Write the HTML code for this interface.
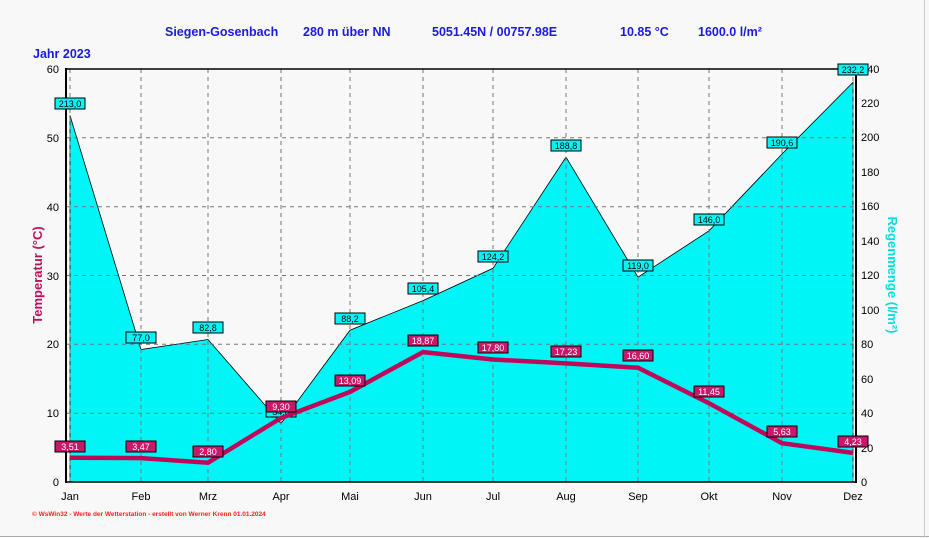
<!DOCTYPE html><html><head><style>body{margin:0;background:#f8f8f8}svg{display:block}</style></head><body>
<svg width="929" height="538" xmlns="http://www.w3.org/2000/svg" font-family="Liberation Sans, sans-serif">
<rect width="929" height="538" fill="#f8f8f8"/>
<line x1="0" y1="536.5" x2="929" y2="536.5" stroke="#aaa"/>
<line x1="924.5" y1="0" x2="924.5" y2="538" stroke="#ccc"/>
<g fill="#1a1ae6" font-weight="bold" font-size="12.5">
<text x="165" y="36">Siegen-Gosenbach</text><text x="303" y="36">280 m über NN</text>
<text x="432" y="36">5051.45N / 00757.98E</text><text x="620" y="36">10.85 °C</text><text x="698" y="36">1600.0 l/m²</text>
<text x="33" y="58">Jahr  2023</text></g>
<polygon fill="#00f6f6" stroke="#000" stroke-width="0.8" points="70,482 70,115.5 141,349.5 208,339.5 281,423.5 350,330.2 423,300.6 493,268.3 566,157.1 638,277.2 709,230.8 782,154 853,82.4 853,482"/>
<g stroke="#777" stroke-dasharray="4,4" fill="none">
<path d="M141,69V482M208,69V482M281,69V482M350,69V482M423,69V482M493,69V482M566,69V482M638,69V482M709,69V482M782,69V482M853,69V482M70,69V482"/>
<path d="M66,413.2H856M66,344.3H856M66,275.5H856M66,206.7H856M66,137.8H856"/>
</g>
<line x1="66" y1="69" x2="856" y2="69" stroke="#000" stroke-width="1.5"/>
<line x1="66" y1="482" x2="856" y2="482" stroke="#000" stroke-width="1.5"/>
<line x1="66" y1="68" x2="66" y2="483" stroke="#000" stroke-width="2"/>
<line x1="856" y1="68" x2="856" y2="483" stroke="#000" stroke-width="2"/>
<g font-size="11" fill="#000" text-anchor="end">
<text x="59" y="73">60</text><text x="59" y="142">50</text><text x="59" y="211">40</text><text x="59" y="280">30</text><text x="59" y="348">20</text><text x="59" y="417">10</text><text x="59" y="486">0</text></g>
<g font-size="11" fill="#000">
<text x="861" y="73">240</text><text x="861" y="107">220</text><text x="861" y="141">200</text><text x="861" y="176">180</text><text x="861" y="210">160</text><text x="861" y="245">140</text><text x="861" y="279">120</text><text x="861" y="314">100</text><text x="861" y="348">80</text><text x="861" y="383">60</text><text x="861" y="417">40</text><text x="861" y="452">20</text><text x="861" y="486">0</text></g>
<g font-size="11" fill="#000" text-anchor="middle">
<text x="70" y="500">Jan</text><text x="141" y="500">Feb</text><text x="208" y="500">Mrz</text><text x="281" y="500">Apr</text><text x="350" y="500">Mai</text><text x="423" y="500">Jun</text><text x="493" y="500">Jul</text><text x="566" y="500">Aug</text><text x="638" y="500">Sep</text><text x="709" y="500">Okt</text><text x="782" y="500">Nov</text><text x="853" y="500">Dez</text></g>
<text transform="translate(42,275) rotate(-90)" text-anchor="middle" font-size="13" font-weight="bold" fill="#c0105a">Temperatur  (°C)</text>
<text transform="translate(888,275) rotate(90)" text-anchor="middle" font-size="13" font-weight="bold" fill="#00e0e0">Regenmenge  (l/m²)</text>
<text x="32" y="516" font-size="6.5" fill="#ff2020" font-weight="bold">© WsWin32  -  Werte der Wetterstation  -  erstellt von Werner Krenn   01.01.2024</text>
<g font-size="9" text-anchor="middle">
<g fill="#00f6f6" stroke="#000" stroke-width="1">
<rect x="55" y="98" width="30" height="11"/><rect x="126" y="332" width="30" height="11"/><rect x="193" y="322" width="30" height="11"/><rect x="266" y="406" width="30" height="11"/><rect x="335" y="313" width="30" height="11"/><rect x="408" y="283" width="30" height="11"/><rect x="478" y="251" width="30" height="11"/><rect x="551" y="140" width="30" height="11"/><rect x="623" y="260" width="30" height="11"/><rect x="694" y="214" width="30" height="11"/><rect x="767" y="137" width="30" height="11"/><rect x="838" y="64" width="30" height="11"/></g>
<g fill="#000"><text x="70" y="107">213,0</text><text x="141" y="341">77,0</text><text x="208" y="331">82,8</text><text x="281" y="415">34,0</text><text x="350" y="322">88,2</text><text x="423" y="292">105,4</text><text x="493" y="260">124,2</text><text x="566" y="149">188,8</text><text x="638" y="269">119,0</text><text x="709" y="223">146,0</text><text x="782" y="146">190,6</text><text x="853" y="73">232,2</text></g>
</g>
<polyline fill="none" stroke="#c0085a" stroke-width="4.5" points="70,457.8 141,458.1 208,462.7 281,418 350,391.9 423,352.1 493,359.5 566,363.4 638,367.7 709,403.2 782,443.2 853,452.9"/>
<g font-size="9" text-anchor="middle">
<g fill="#c8186a" stroke="#000" stroke-width="1">
<rect x="55" y="441" width="30" height="11"/><rect x="126" y="441" width="30" height="11"/><rect x="193" y="446" width="30" height="11"/><rect x="266" y="401" width="30" height="11"/><rect x="335" y="375" width="30" height="11"/><rect x="408" y="335" width="30" height="11"/><rect x="478" y="342" width="30" height="11"/><rect x="551" y="346" width="30" height="11"/><rect x="623" y="350" width="30" height="11"/><rect x="694" y="386" width="30" height="11"/><rect x="767" y="426" width="30" height="11"/><rect x="838" y="436" width="30" height="11"/></g>
<g fill="#fff"><text x="70" y="450">3,51</text><text x="141" y="450">3,47</text><text x="208" y="455">2,80</text><text x="281" y="410">9,30</text><text x="350" y="384">13,09</text><text x="423" y="344">18,87</text><text x="493" y="351">17,80</text><text x="566" y="355">17,23</text><text x="638" y="359">16,60</text><text x="709" y="395">11,45</text><text x="782" y="435">5,63</text><text x="853" y="445">4,23</text></g>
</g>
</svg></body></html>
